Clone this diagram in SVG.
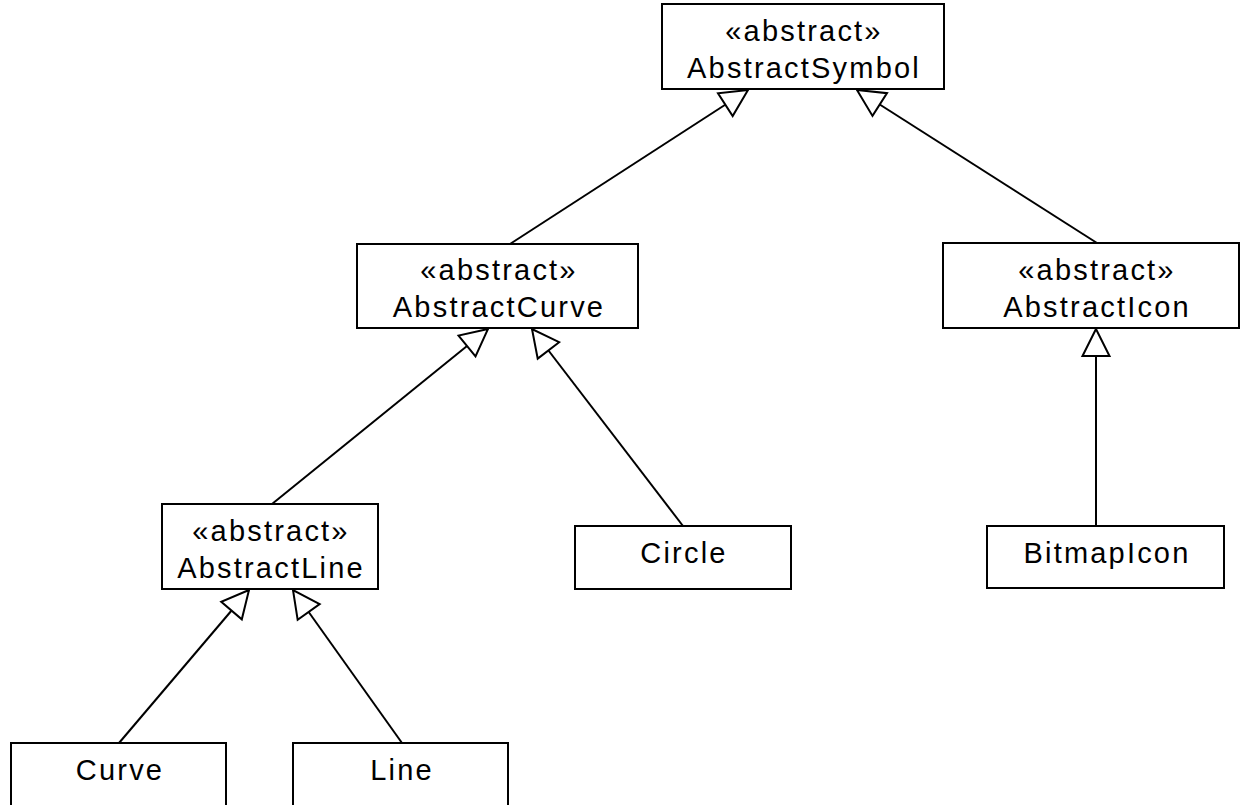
<svg xmlns="http://www.w3.org/2000/svg" width="1243" height="805" viewBox="0 0 1243 805">
<style>
.box{fill:#fff;stroke:#000;stroke-width:2}
.lbl{font-family:"Liberation Sans",Arial,sans-serif;font-size:29px;letter-spacing:2.2px;fill:#000;text-anchor:middle}
.conn{stroke:#000;stroke-width:2;fill:none;marker-end:url(#gen)}
</style>
<defs>
<marker id="gen" markerUnits="userSpaceOnUse" viewBox="0 0 32 32" markerWidth="32" markerHeight="32" refX="29" refY="16" orient="auto" overflow="visible">
<path d="M29,16 L2,2.5 L2,29.5 Z" fill="#fff" stroke="#000" stroke-width="2" stroke-linejoin="miter"/>
</marker>
</defs>
<rect width="1243" height="805" fill="#fff"/>
<g id="connectors">
<line class="conn" x1="510" y1="244" x2="748" y2="90"/>
<line class="conn" x1="1097" y1="243" x2="857" y2="90"/>
<line class="conn" x1="272" y1="504" x2="488" y2="329"/>
<line class="conn" x1="683" y1="526" x2="532" y2="329"/>
<line class="conn" x1="1096" y1="526" x2="1096" y2="329"/>
<line class="conn" x1="119" y1="743" x2="249" y2="590"/>
<line class="conn" x1="402" y1="743" x2="293" y2="590"/>
</g>
<g id="AbstractSymbol">
<rect class="box" x="662" y="4" width="282" height="85"/>
<text class="lbl" x="804" y="41">«abstract»</text>
<text class="lbl" x="804" y="78">AbstractSymbol</text>
</g>
<g id="AbstractCurve">
<rect class="box" x="357" y="244" width="281" height="84"/>
<text class="lbl" x="499" y="280">«abstract»</text>
<text class="lbl" x="499" y="317">AbstractCurve</text>
</g>
<g id="AbstractIcon">
<rect class="box" x="943" y="243" width="296" height="85"/>
<text class="lbl" x="1097" y="280">«abstract»</text>
<text class="lbl" x="1097" y="317">AbstractIcon</text>
</g>
<g id="AbstractLine">
<rect class="box" x="162" y="504" width="216" height="85"/>
<text class="lbl" x="271" y="541">«abstract»</text>
<text class="lbl" x="271" y="578">AbstractLine</text>
</g>
<g id="Circle">
<rect class="box" x="575" y="526" width="216" height="63"/>
<text class="lbl" x="684" y="563">Circle</text>
</g>
<g id="BitmapIcon">
<rect class="box" x="987" y="526" width="237" height="62"/>
<text class="lbl" x="1107" y="563">BitmapIcon</text>
</g>
<g id="Curve">
<rect class="box" x="11" y="743" width="215" height="80"/>
<text class="lbl" x="120" y="780">Curve</text>
</g>
<g id="Line">
<rect class="box" x="293" y="743" width="215" height="80"/>
<text class="lbl" x="402" y="780">Line</text>
</g>
</svg>
